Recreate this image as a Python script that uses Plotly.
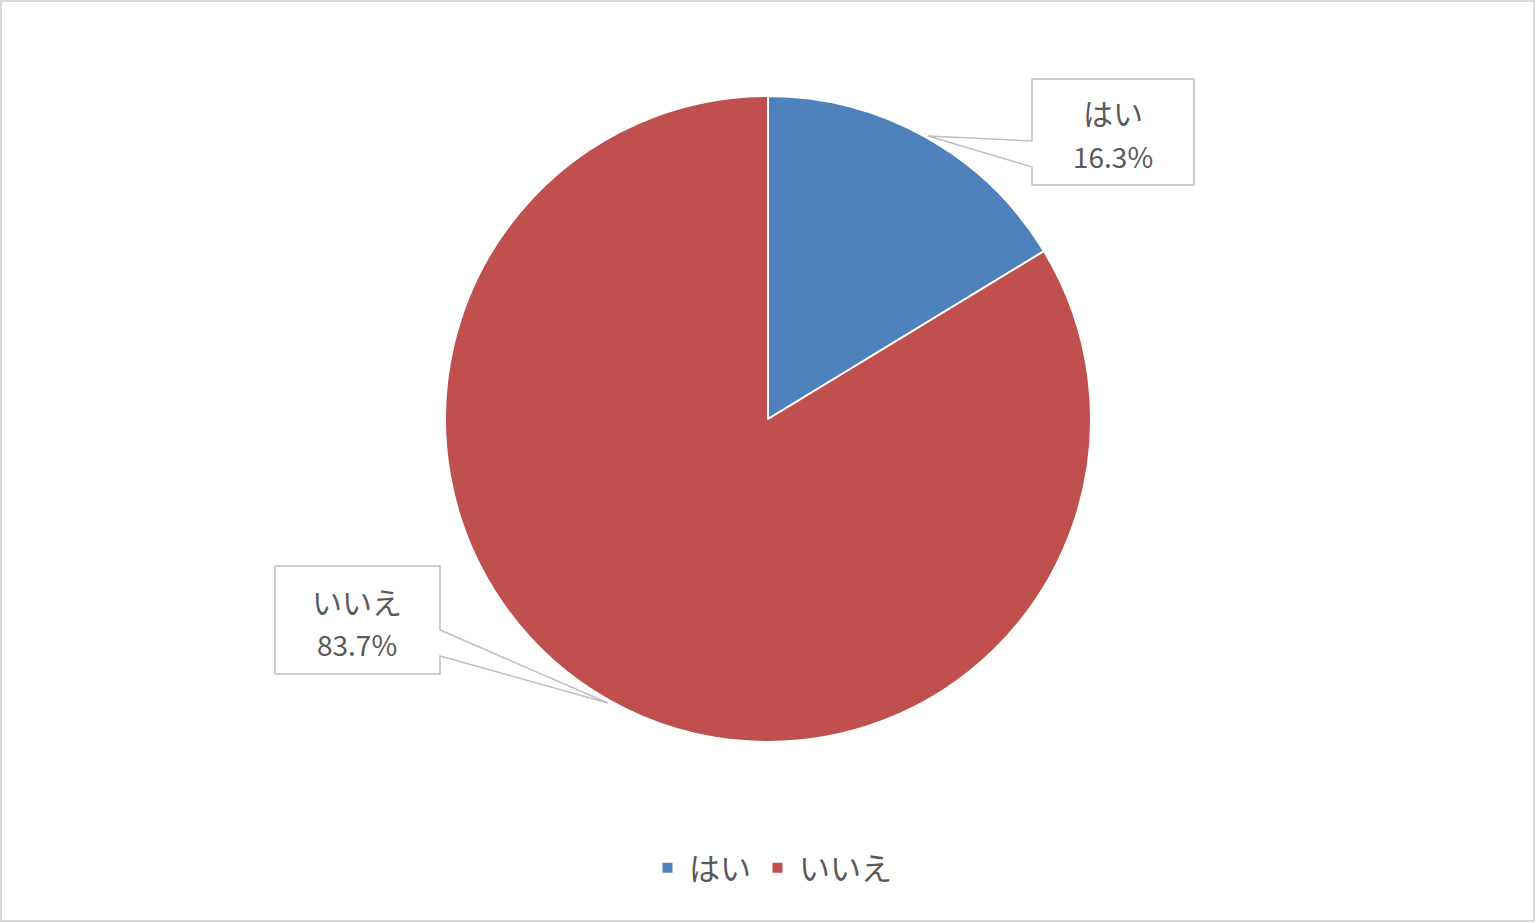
import plotly.graph_objects as go

labels = ["はい", "いいえ"]
values = [16.3, 83.7]
colors = ["#4F81BD", "#C0504D"]

W, H = 1536, 923
FONT = "Noto Sans CJK JP"
TXT = "#595959"

cx, cy, r = 768, 419, 323

def px(x):
    return x / W

def py(y):
    return 1 - y / H

fig = go.Figure(go.Pie(
    labels=labels, values=values, sort=False, direction="clockwise", rotation=0,
    marker=dict(colors=colors, line=dict(color="white", width=2)),
    textinfo="none", hoverinfo="label+percent",
    domain=dict(x=[px(cx - r), px(cx + r)], y=[py(cy + r), py(cy - r)]),
))

def path(pts):
    return "M " + " L ".join(f"{px(x):.6f},{py(y):.6f}" for x, y in pts) + " Z"

# callout boxes
callouts = [
    dict(pts=[(1032, 79), (1194, 79), (1194, 185), (1032, 185), (1032, 167), (928, 136), (1032, 141)],
         cx=1113, y1=112, y2=156),
    dict(pts=[(275, 566), (440, 566), (440, 630), (608, 703), (440, 656), (440, 674), (275, 674)],
         cx=357, y1=601, y2=644),
]

shapes = []
annotations = []
for i, c in enumerate(callouts):
    shapes.append(dict(type="path", xref="paper", yref="paper", path=path(c["pts"]),
                       fillcolor="white", line=dict(color="#BFBFBF", width=1.5)))
    annotations.append(dict(x=px(c["cx"]), y=py(c["y1"]), xref="paper", yref="paper",
                            text=labels[i], showarrow=False, xanchor="center", yanchor="middle",
                            font=dict(family=FONT, size=30, color=TXT)))
    annotations.append(dict(x=px(c["cx"]), y=py(c["y2"]), xref="paper", yref="paper",
                            text=f"{values[i]:.1f}%", showarrow=False, xanchor="center", yanchor="middle",
                            font=dict(family=FONT, size=28, color=TXT)))

# outer border
shapes.append(dict(type="rect", xref="paper", yref="paper", x0=px(1), x1=px(W - 2), y0=py(H - 2), y1=py(1),
                   line=dict(color="#D9D9D9", width=2), fillcolor="rgba(0,0,0,0)"))

fig.update_layout(
    width=W, height=H, margin=dict(l=0, r=0, t=0, b=0),
    paper_bgcolor="white", plot_bgcolor="white",
    shapes=shapes, annotations=annotations,
    showlegend=True,
    legend=dict(orientation="h", x=px(646), xanchor="left", y=py(868), yanchor="middle",
                itemwidth=33,
                font=dict(family=FONT, size=31, color=TXT), bgcolor="rgba(0,0,0,0)"),
)

fig.write_html("out.html", config={"displayModeBar": False},
               post_script="document.body.style.margin='0';document.body.style.overflow='hidden';")
